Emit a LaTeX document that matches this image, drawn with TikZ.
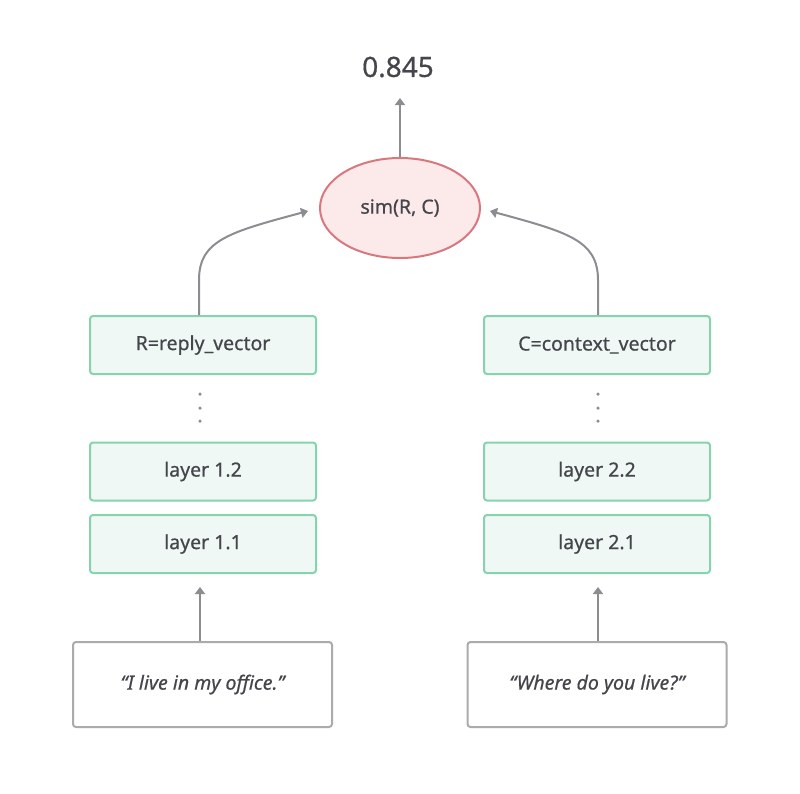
\documentclass[tikz,border=0pt]{standalone}
\usepackage{fontspec}
\setmainfont{Noto Sans}[UprightFeatures={FakeBold=0.6},ItalicFeatures={FakeBold=0.6}]
\usetikzlibrary{arrows.meta,shapes.geometric}
\definecolor{txt}{HTML}{45454C}
\definecolor{grn}{HTML}{86D4AE}
\definecolor{grnfill}{HTML}{EFF8F5}
\definecolor{red}{HTML}{D9777F}
\definecolor{redfill}{HTML}{FCE9EA}
\definecolor{arr}{HTML}{8C8C92}
\definecolor{inbox}{HTML}{ABABAB}
\tikzset{
  layerbox/.style={draw=grn, fill=grnfill, line width=2pt, rounded corners=3pt,
    minimum width=226pt, minimum height=58pt, inner sep=0pt, text=txt, font=\fontsize{19.5}{22}\selectfont},
  inputbox/.style={draw=inbox, fill=white, line width=2pt, rounded corners=3pt,
    minimum width=259pt, minimum height=85pt, inner sep=0pt, text=txt, font=\fontsize{19.5}{22}\selectfont\itshape},
  conn/.style={draw=arr, line width=2pt, -{Triangle[length=7pt,width=10pt]}},
  dotc/.style={fill=arr, circle, inner sep=0pt, minimum size=3.5pt}
}
\begin{document}
\begin{tikzpicture}[x=1pt,y=-1pt]
\useasboundingbox (0,0) rectangle (800,793);
\node[text=txt, font=\fontsize{28}{30}\selectfont] (score) at (398,67) {0.845};
\coordinate (scoretip) at (400,98);
\node[ellipse, draw=red, fill=redfill, line width=2pt, minimum width=160pt, minimum height=100pt, inner sep=0pt,
  text=txt, font=\fontsize{19.5}{22}\selectfont] (sim) at (400,208) {sim(R, C)};
\draw[conn] (sim.north) -- (scoretip);
% left column
\node[layerbox] (R) at (203,345) {R=reply\_vector};
\node[layerbox] (l12) at (203,471.5) {layer 1.2};
\node[layerbox] (l11) at (203,544) {layer 1.1};
\node[inputbox] (in1) at (202.5,684.5) {“I live in my office.”};
\node[dotc] (d1a) at (200,394) {};
\node[dotc] (d1b) at (200,408) {};
\node[dotc] (d1c) at (200,421) {};
\coordinate (l11tip) at (200,587);
\draw[conn] (in1.north -| l11tip) -- (l11tip);
\coordinate (simL) at (308,211);
\draw[conn] (R.north -| 199,0) -- (199,280) .. controls (199,240) and (230,232) .. (simL);
% right column
\node[layerbox] (C) at (597,345) {C=context\_vector};
\node[layerbox] (l22) at (597,471.5) {layer 2.2};
\node[layerbox] (l21) at (597,544) {layer 2.1};
\node[inputbox] (in2) at (597,684.5) {“Where do you live?”};
\node[dotc] (d2a) at (598,394) {};
\node[dotc] (d2b) at (598,408) {};
\node[dotc] (d2c) at (598,421) {};
\coordinate (l21tip) at (598,587);
\draw[conn] (in2.north -| l21tip) -- (l21tip);
\coordinate (simR) at (490,211);
\draw[conn] (C.north -| 598,0) -- (598,280) .. controls (598,240) and (567,232) .. (simR);
\end{tikzpicture}
\end{document}
